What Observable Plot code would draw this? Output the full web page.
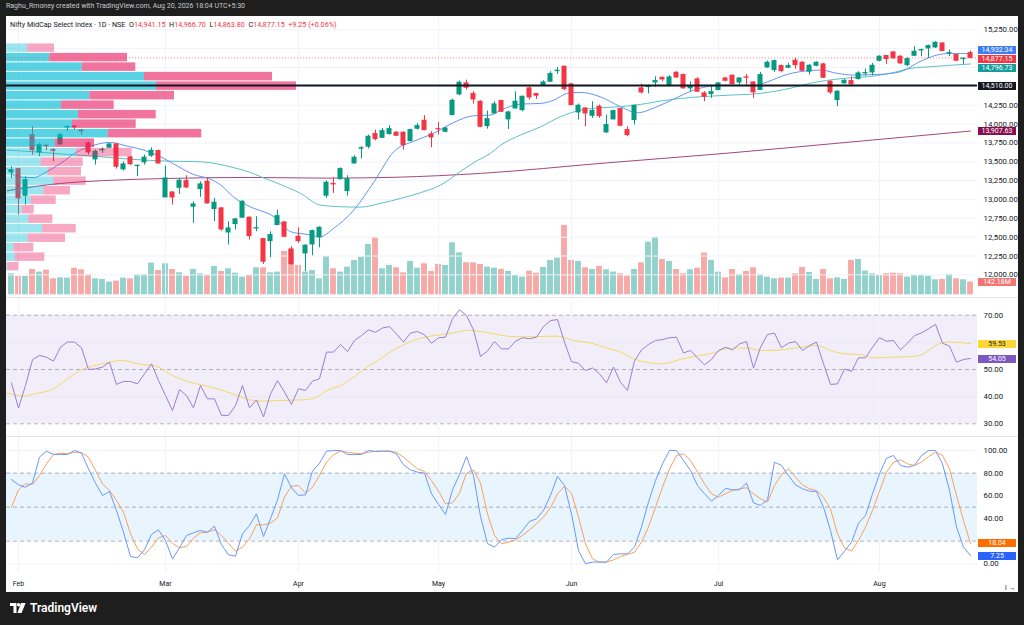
<!DOCTYPE html>
<html><head><meta charset="utf-8">
<script src="https://cdn.jsdelivr.net/npm/d3@7"></script>
<script src="https://cdn.jsdelivr.net/npm/@observablehq/plot@0.6"></script>
<style>
html,body{margin:0;padding:0}
body{width:1024px;height:625px;background:#1e1e1e;position:relative;overflow:hidden;font-family:Roboto,"Liberation Sans",sans-serif}
#attr{position:absolute;left:6px;top:2px;font-size:7px;color:#c8cad0;white-space:nowrap}
#white{position:absolute;left:6px;top:16px;width:1012px;height:576px;background:#fff}
.layer{position:absolute;left:6px}
.layer svg{display:block}
#hdr{position:absolute;left:10px;top:20px;font-size:7.2px;color:#131722;white-space:nowrap}
#hdr .r{color:#f23645}
.sep{position:absolute;left:6px;width:1012px;height:1px;background:#e0e3eb}
.box{position:absolute;left:978px;width:38px;height:8px;line-height:8px;font-size:7px;text-align:center;color:#fff;white-space:nowrap}
#logo{position:absolute;left:10px;top:601px;color:#fff;font-size:12px;font-weight:600;display:flex;align-items:center;gap:4px}
</style></head>
<body>
<div id="attr">Raghu_Rmoney created with TradingView.com, Aug 20, 2026 18:04 UTC+5:30</div>
<div id="white"></div>
<script>
// ---------- DATA ----------
const monthIdx = [1, 22, 41, 61, 80, 101, 124];
const monthNames = ["Feb", "Mar", "Apr", "May", "Jun", "Jul", "Aug"];
const priceTicks = [12000,12250,12500,12750,13000,13250,13500,13750,14000,14250,14500,14750,15000,15250];
const priceLabelTicks = [12000,12250,12500,12750,13000,13250,13500,13750,14000,14250,15250];

const open = [13359,13403,13050,13854,13624,13712,13655,13730,13955,13967,13918,13743,13531,13652,13686,13730,13399,13558,13443,13492,13580,13642,13027,13093,13155,13244,12904,13138,13235,12873,12882,12563,12674,12758,12758,12616,12475,12448,12661,12696,12338,12506,12285,12404,12497,13050,13207,13270,13111,13478,13674,13700,13867,13818,13867,13885,13885,13774,13938,14044,13862,13933,13898,14119,14393,14539,14398,14296,13973,14141,14305,14062,14207,14185,14473,14398,14517,14561,14702,14760,14526,14154,14207,14110,14230,13889,14062,14199,13920,14053,14473,14490,14552,14614,14504,14680,14650,14473,14592,14407,14398,14451,14605,14641,14552,14619,14552,14451,14751,14716,14769,14747,14840,14813,14694,14773,14791,14561,14318,14539,14570,14597,14672,14685,14840,14902,14950,14893,14782,14906,14976,15003,15016,15069,14937,14915,14862,14941.15];
const high = [13434,13412,13302,13965,13743,13730,13677,13876,13973,13975,13929,13765,13655,13686,13743,13743,13500,13567,13456,13589,13686,13655,13443,13103,13279,13315,12970,13235,13288,13014,12890,12705,12749,12983,12771,12771,12484,12572,12860,12705,12373,12625,12404,12594,12638,13248,13288,13421,13315,13580,13700,13854,13920,13942,13978,13898,13898,13933,14009,14110,13898,14022,13955,14331,14570,14583,14429,14309,14172,14296,14318,14172,14429,14371,14504,14407,14574,14694,14751,14769,14539,14265,14216,14296,14252,14119,14185,14207,13964,14252,14530,14517,14627,14619,14641,14694,14663,14561,14614,14429,14495,14548,14619,14650,14614,14658,14561,14685,14835,14849,14782,14804,14871,14826,14791,14826,14804,14574,14442,14592,14627,14694,14729,14804,14906,14906,14959,14906,14880,15025,14994,15047,15092,15078,14981,14924,14880,14966.70];
const low = [13279,12793,12926,13589,13567,13650,13500,13721,13898,13920,13854,13589,13456,13610,13677,13403,13377,13447,13302,13456,13558,13469,13027,12926,13067,13147,12683,13027,12939,12705,12581,12395,12594,12758,12462,12572,12139,12227,12652,12493,12130,12418,12042,12254,12360,13014,13080,13257,13045,13469,13536,13668,13779,13810,13854,13832,13655,13765,13920,13911,13686,13854,13885,14110,14375,14451,14265,13951,13933,14128,14154,13929,14199,14163,14318,14327,14504,14552,14658,14442,14243,14053,13964,14075,14075,13876,14053,13964,13832,13987,14398,14398,14486,14561,14495,14605,14464,14429,14420,14296,14340,14442,14561,14517,14517,14517,14340,14451,14738,14685,14680,14738,14729,14694,14650,14760,14605,14393,14230,14530,14517,14583,14636,14641,14826,14791,14862,14795,14760,14893,14893,14871,15003,14959,14893,14826,14791,14863.80];
const close = [13390,13014,13257,13655,13721,13705,13645,13854,13962,13958,13902,13624,13633,13660,13730,13434,13465,13469,13447,13554,13646,13478,13279,13027,13248,13160,12935,13200,12948,12957,12603,12616,12736,12970,12515,12620,12174,12528,12780,12506,12143,12448,12387,12581,12625,13222,13200,13403,13270,13554,13680,13832,13801,13907,13933,13845,13721,13920,13973,13920,13823,13929,13942,14309,14548,14482,14327,13964,14066,14261,14163,14154,14296,14362,14353,14376,14552,14663,14707,14464,14252,14243,14141,14176,14106,13987,14172,13978,13854,14243,14420,14495,14570,14592,14619,14619,14473,14504,14429,14362,14424,14539,14574,14530,14605,14614,14420,14650,14813,14835,14703,14769,14782,14707,14773,14813,14614,14420,14429,14574,14526,14672,14676,14773,14893,14862,14871,14804,14862,14959,14981,15034,15078,14968,14941,14840,14867.90,14877.15];
// volume in millions
const volume = [235,205,205,283,254,276,179,190,187,298,280,224,179,172,142,153,187,179,224,224,354,272,347,283,246,205,283,235,216,317,261,291,242,198,216,302,302,246,254,485,504,328,254,272,179,429,291,254,310,384,421,563,642,291,328,302,246,373,298,347,261,339,328,582,470,358,358,339,310,298,283,261,216,198,265,242,306,384,410,776,384,373,302,283,317,280,254,235,209,283,358,589,645,395,373,283,235,280,298,466,384,254,190,283,228,261,302,224,198,179,187,187,235,306,250,172,283,179,190,172,384,395,265,235,216,235,242,235,198,216,216,209,168,172,228,179,168,142.18];

// moving averages (bar index, value)
const emaFastIdx = [-0.6,0.8,3.2,4.6,7,9.4,11.8,14.1,16.5,18.9,21.3,23.7,26,28.4,29.9,31.8,34.1,37.5,39.9,42.2,44.1,46,48.9,51.8,54.6,57.5,60.3,63.2,66,68.4,69.9,72.7,75.6,77.5,79.4,81.3,84.1,87,89.4,92.2,94.6,97.5,100.3,102.7,106,108,110.8,113.7,115.6,118,120.3,123.7,127,129.9,132.2,134.1,137];
const emaFastVal = [13412,13302,13288,13346,13478,13633,13721,13757,13708,13655,13567,13443,13332,13270,13191,13027,12904,12771,12572,12537,12506,12616,12860,13235,13633,13774,13876,14022,14110,14119,14185,14265,14274,14318,14407,14420,14362,14230,14150,14230,14331,14451,14508,14517,14508,14561,14658,14707,14716,14672,14650,14658,14694,14835,14915,14937,14932.34];
const emaSlowIdx = [-0.6,3.2,8,12.7,17.5,22.2,27,31.8,34.1,35.6,38.4,41.3,44.1,47,49.9,52.7,55.6,58.4,61.3,64.1,66,68.4,69.9,72.7,75.6,78.4,81.3,84.1,87,89.9,92.7,95.6,98.4,102.7,106.9,111.6,114,118.8,123.6,125.5,128.4,131.2,137];
const emaSlowVal = [13655,13633,13598,13567,13531,13509,13500,13421,13359,13302,13200,13080,12926,12904,12899,12948,13014,13089,13191,13368,13487,13611,13721,13854,13964,14097,14185,14216,14230,14261,14305,14340,14362,14384,14406,14482,14539,14605,14641,14672,14738,14760,14796.73];
const sma200Idx = [-0.6,7,13,22,34,45,55,67,85,102,120,137];
const sma200Val = [13116,13213,13250,13278,13292,13283,13295,13346,13485,13612,13763,13907.63];
const pocPrice = 14510;

// visible-range volume profile (rows from top)
const vpBin = 126;
const vpTop = [15070,14944,14818,14692,14566,14440,14314,14188,14062,13936,13810,13684,13558,13432,13306,13180,13054,12928,12802,12676,12550,12424,12298,12172];
const vpUp = [213,433,757,1380,1500,833,550,720,660,1017,490,700,347,417,473,373,247,157,223,363,217,73,90,13];
const vpDown = [267,777,536,1280,1400,847,527,777,637,936,390,557,420,333,324,267,250,120,240,334,373,200,293,110];
const vpValueArea = [false,true,true,true,true,true,true,true,true,true,true,false,false,false,false,false,false,false,false,false,false,false,false,false];

// RSI
const rsi = [45.0,35.8,44.1,53.6,55.2,54.5,53.1,58.2,60.1,60.1,58.0,50.0,50.2,50.9,52.7,44.5,45.6,45.6,44.7,48.4,52.1,46.0,40.4,34.9,42.6,40.4,35.9,44.1,39.2,39.2,33.1,33.1,36.7,44.1,35.9,38.8,32.5,41.0,45.9,41.7,37.1,42.9,42.3,45.7,46.6,56.4,56.4,59.2,56.6,60.7,62.5,64.6,63.7,65.3,65.8,63.1,60.1,63.4,64.0,62.8,59.7,61.7,61.9,68.7,72.0,69.9,64.6,54.8,56.8,60.3,57.6,57.6,60.4,61.7,61.3,61.9,65.8,68.0,68.4,60.1,52.9,52.3,49.6,50.6,48.4,45.1,50.9,45.3,42.3,53.1,57.2,59.2,60.7,61.0,61.7,61.9,56.1,57.0,54.3,51.7,53.7,57.0,58.2,57.2,59.4,60.3,50.5,58.2,62.9,63.4,58.0,59.7,60.3,57.0,58.8,60.1,52.1,44.5,44.7,50.2,49.3,54.3,54.3,58.2,61.7,60.4,60.7,57.2,59.7,62.5,63.5,65.0,66.6,59.7,58.6,52.7,53.7,54.05];
const rsiMaIdx = [-0.7,1.8,3.2,6,8,10.3,12.7,14.1,15.6,16.5,18.4,20.3,23.2,25.1,27,29.4,31.8,34.1,35.5,38.4,41.2,43.2,45.1,47,48.9,50.8,52.7,54.6,56.5,58.4,61.3,63.2,65.1,67,69.4,71.8,74.1,77.9,80.3,82.7,85.1,87,88.9,91.7,93.1,95.5,98.3,100.2,102.6,105.1,107,109.9,112.7,115.1,117,118.9,121.3,123.2,125.1,128.9,130.3,132.2,134.1,137];
const rsiMaVal = [41.4,40.2,41.0,42.9,46.6,50.3,51.9,52.7,53.4,53.1,51.9,51.5,47.5,45.6,44.4,42.9,40.8,38.8,38.3,38.6,38.8,39.4,42.3,44.1,47.2,50.9,53.9,57.2,59.7,61.5,62.8,63.5,64.4,64.0,62.9,62.1,62.1,62.3,60.7,59.8,57.9,56.4,53.9,52.3,52.1,53.7,55.2,56.0,57.9,57.9,57.0,57.2,58.2,58.8,57.0,55.8,55.5,54.3,54.5,54.8,55.8,59.1,60.1,59.53];
const rsiTicks = [30, 40, 50, 70];
const rsiGrid = [40, 60];
const rsiLevels = [30, 50, 70];
const rsiZone = {lo: 30, hi: 70};

// Stochastic
const stochK = [74.4,69.7,67.6,71.2,94.1,99.4,96.5,96.5,96.5,100,97.6,83.8,71.2,60.3,63.8,47.1,27.9,6.5,5.3,12.4,25.9,30.0,20.6,4.4,14.1,25.0,27.4,29.4,27.9,33.2,16.8,7.9,6.8,26.5,33.8,44.1,24.1,39.7,56.5,79.4,67.1,60.3,60.9,81.8,88.8,99.4,100,100,96.5,96.5,96.5,100,99.1,99.4,99.4,97.1,87.4,82.9,80.9,80.0,61.8,52.4,43.5,65.3,78.8,94.7,77.9,41.8,17.9,14.7,21.2,22.6,22.1,29.4,37.4,39.7,47.1,60.3,77.1,69.1,44.1,11.8,0,1.5,1.5,1.5,8.2,8.8,8.8,14.7,32.4,54.4,73.5,88.2,100,100,91.2,82.4,69.1,61.8,55.3,60.3,66.6,65.3,65.3,71.2,53.8,51.5,56.5,89.7,86.8,77.9,69.7,66.2,64.1,63.8,50.0,29.4,3.5,11.2,19.1,35.9,42.6,61.8,79.4,93.2,95.6,86.8,85.3,86.8,95.6,100,100,88.2,64.7,32.4,14.7,7.25];
const stochD = [50.0,65.3,70.6,70.0,77.9,88.2,96.5,97.6,97.1,98.5,98.2,94.1,82.4,70.6,64.7,55.9,45.6,26.5,13.2,8.2,14.7,22.9,25.0,18.2,14.1,15.3,22.6,27.4,27.9,30.0,25.0,18.2,11.2,14.7,22.0,34.4,34.4,35.9,40.6,58.8,68.5,69.1,62.4,67.6,77.9,89.7,96.2,99.4,98.5,97.6,97.1,98.5,99.4,99.4,99.4,98.5,94.1,88.8,83.8,81.5,73.5,64.1,52.9,53.8,62.4,80.0,82.9,71.4,44.1,25.0,17.6,19.1,21.2,25.0,30.0,35.3,41.2,49.4,61.8,68.5,62.4,41.2,17.6,4.4,1.5,1.5,3.5,6.5,8.2,10.3,19.1,32.4,50.0,67.6,83.8,95.6,97.1,91.2,80.9,70.6,61.8,58.8,61.8,64.7,66.2,67.1,61.8,57.4,54.4,69.1,78.8,83.8,76.5,69.7,66.2,64.7,58.8,48.5,26.5,14.1,11.2,20.6,32.4,47.1,64.1,80.9,89.7,91.8,88.2,86.8,89.7,94.7,98.5,95.6,83.8,60.3,38.2,18.04];
const stochTicks = [0, 40, 60, 80, 100];
const stochGrid = [0, 40, 60, 100];
const stochLevels = [20, 50, 80];
const stochZone = {lo: 20, hi: 80};

// ---------- RENDER ----------
const FONT = "Roboto, 'Liberation Sans', sans-serif";
const W = 1012, MR = 41, XDOM = [-0.714, 138];
const G = "#089981", R = "#f23645";
const GRID = "#f0f3fa";
const f2 = d3.format(",.2f");
const candles = open.map((o, i) => ({i, open: o, high: high[i], low: low[i], close: close[i], vol: volume[i], up: close[i] >= o}));
const pts = (idx, val) => idx.map((i, j) => ({i, v: val[j]}));
const seriesPts = val => val.map((v, i) => ({i, v}));
const base = (h, mt, mb) => ({
  width: W, height: h, marginLeft: 0, marginRight: MR, marginTop: mt, marginBottom: mb,
  style: {background: "transparent", fontFamily: FONT, fontSize: "7.8px", color: "#131722", overflow: "visible"},
  color: {type: "identity"}
});
function place(svg, top) {
  const d = document.createElement("div");
  d.className = "layer"; d.style.top = top + "px";
  d.appendChild(svg); document.body.appendChild(d);
}
function boxes(plot, top, items) {
  const s = plot.scale("y");
  const arr = items.map(d => ({...d, y: top + s.apply(d.v)})).sort((a, b) => a.y - b.y);
  for (let it = 0; it < 40; it++) for (let j = 1; j < arr.length; j++) {
    const g = arr[j].y - arr[j - 1].y;
    if (g < 9) { const m = (9 - g) / 2; arr[j].y += m; arr[j - 1].y -= m; }
  }
  for (const d of arr) {
    const b = document.createElement("div");
    b.className = "box"; b.textContent = d.text;
    b.style.top = (d.y - 3.5) + "px"; b.style.background = d.bg; b.style.color = d.fg || "#fff";
    document.body.appendChild(b);
  }
}

// Price pane geometry
const P_TOP = 16, P_H = 281, P_MT = 13.3, P_MB = 22.6;

// volume (bottom layer)
const volPlot = Plot.plot({
  ...base(P_H, 0, 2.7),
  x: {domain: XDOM, axis: null},
  y: {domain: [0, 3114], axis: null},
  marks: [
    Plot.rect(candles, {x1: d => d.i - 0.42, x2: d => d.i + 0.42, y1: 0, y2: "vol",
      fill: d => d.up ? "rgba(38,166,154,0.5)" : "rgba(239,83,80,0.5)"})
  ]
});
place(volPlot, P_TOP);

const pricePlot = Plot.plot({
  ...base(P_H, P_MT, P_MB),
  x: {domain: XDOM, axis: null},
  y: {domain: [12000, 15250]},
  marks: [
    Plot.ruleY(priceTicks, {stroke: GRID}),
    Plot.ruleX(monthIdx, {stroke: GRID, insetTop: -P_MT, insetBottom: -P_MB}),
    Plot.axisY(priceLabelTicks, {anchor: "right", tickSize: 0, tickPadding: 6, tickFormat: f2, fontSize: 7.8}),
    Plot.line(pts(sma200Idx, sma200Val), {x: "i", y: "v", stroke: "#a4487a", strokeWidth: 1, curve: "monotone-x"}),
    Plot.line(pts(emaSlowIdx, emaSlowVal), {x: "i", y: "v", stroke: "#5cc2c2", strokeWidth: 1, curve: "monotone-x"}),
    Plot.line(pts(emaFastIdx, emaFastVal), {x: "i", y: "v", stroke: "#6495f5", strokeWidth: 1, curve: "monotone-x"}),
    Plot.ruleX(candles, {x: "i", y1: "low", y2: "high", stroke: d => d.up ? G : R, strokeWidth: 1}),
    Plot.rect(candles, {x1: d => d.i - 0.36, x2: d => d.i + 0.36, y1: "open", y2: "close",
      fill: d => d.up ? G : R, insetTop: -0.5, insetBottom: -0.5})
  ]
});
place(pricePlot, P_TOP);

const vp = vpTop.map((t, j) => ({top: t, bot: t - vpBin, up: vpUp[j], down: vpDown[j], va: vpValueArea[j]}));
const profPlot = Plot.plot({
  ...base(P_H, P_MT, P_MB),
  x: {domain: [0, 9710], axis: null},
  y: {domain: [12000, 15250], axis: null},
  marks: [
    Plot.rect(vp, {x1: 0, x2: "up", y1: "bot", y2: "top", insetTop: 0.5, insetBottom: 0.5,
      fill: d => d.va ? "rgba(0,188,212,0.65)" : "rgba(0,188,212,0.38)"}),
    Plot.rect(vp, {x1: "up", x2: d => d.up + d.down, y1: "bot", y2: "top", insetTop: 0.5, insetBottom: 0.5,
      fill: d => d.va ? "rgba(233,30,99,0.62)" : "rgba(233,30,99,0.38)"}),
    Plot.ruleY([close[close.length - 1]], {stroke: R, strokeOpacity: 0.6, strokeDasharray: "1,2"}),
    Plot.ruleY([pocPrice], {stroke: "#131722", strokeWidth: 2})
  ]
});
place(profPlot, P_TOP);

// RSI pane
const R_TOP = 297, R_H = 139, R_MT = 17.7, R_MB = 12.7;
const rsiPlot = Plot.plot({
  ...base(R_H, R_MT, R_MB),
  x: {domain: XDOM, axis: null},
  y: {domain: [30, 70]},
  marks: [
    Plot.rect([rsiZone], {y1: "lo", y2: "hi", fill: "#7e57c2", fillOpacity: 0.1}),
    Plot.ruleY(rsiGrid, {stroke: "#e9e6f2"}),
    Plot.ruleX(monthIdx, {stroke: GRID, strokeOpacity: 0.8, insetTop: -R_MT, insetBottom: -R_MB}),
    Plot.ruleY(rsiLevels, {stroke: "#787b86", strokeOpacity: 0.55, strokeDasharray: "4,3"}),
    Plot.axisY(rsiTicks, {anchor: "right", tickSize: 0, tickPadding: 6, tickFormat: d3.format(".2f"), fontSize: 7.8}),
    Plot.line(pts(rsiMaIdx, rsiMaVal), {x: "i", y: "v", stroke: "#f5d867", strokeWidth: 1, curve: "monotone-x"}),
    Plot.line(seriesPts(rsi), {x: "i", y: "v", stroke: "#9a7fd1", strokeWidth: 1})
  ]
});
place(rsiPlot, R_TOP);

// Stochastic pane + time axis
const S_TOP = 436, S_H = 156, S_MT = 14, S_MB = 28.7, S_PANE = 136;
const stPlot = Plot.plot({
  ...base(S_H, S_MT, S_MB),
  x: {domain: XDOM},
  y: {domain: [0, 100]},
  marks: [
    Plot.rect([stochZone], {y1: "lo", y2: "hi", fill: "#2196f3", fillOpacity: 0.1}),
    Plot.ruleY(stochGrid, {stroke: GRID}),
    Plot.ruleX(monthIdx, {stroke: GRID, insetTop: -S_MT, insetBottom: -(S_PANE - (S_H - S_MB))}),
    Plot.ruleY(stochLevels, {stroke: "#787b86", strokeOpacity: 0.55, strokeDasharray: "4,3"}),
    Plot.axisY(stochTicks, {anchor: "right", tickSize: 0, tickPadding: 6, tickFormat: d3.format(".2f"), fontSize: 7.8}),
    Plot.axisX(monthIdx, {anchor: "bottom", tickSize: 0, tickPadding: 17, fontSize: 7,
      tickFormat: d => monthNames[monthIdx.indexOf(d)]}),
    Plot.line(seriesPts(stochD), {x: "i", y: "v", stroke: "#f7a15e", strokeWidth: 1}),
    Plot.line(seriesPts(stochK), {x: "i", y: "v", stroke: "#6b98f8", strokeWidth: 1})
  ]
});
place(stPlot, S_TOP);

// pane separators
for (const y of [R_TOP, S_TOP]) {
  const s = document.createElement("div"); s.className = "sep"; s.style.top = y + "px"; document.body.appendChild(s);
}

// axis value labels
const last = close.length - 1;
boxes(pricePlot, P_TOP, [
  {v: emaFastVal[emaFastVal.length - 1], text: f2(emaFastVal[emaFastVal.length - 1]), bg: "#3f7cf5"},
  {v: close[last], text: f2(close[last]), bg: R},
  {v: emaSlowVal[emaSlowVal.length - 1], text: f2(emaSlowVal[emaSlowVal.length - 1]), bg: "#179c9c"},
  {v: pocPrice, text: f2(pocPrice), bg: "#131722"},
  {v: sma200Val[sma200Val.length - 1], text: f2(sma200Val[sma200Val.length - 1]), bg: "#880e4f"}
]);
boxes(volPlot, P_TOP, [{v: volume[last], text: d3.format(".2f")(volume[last]) + "M", bg: "#f07573"}]);
boxes(rsiPlot, R_TOP, [
  {v: rsiMaVal[rsiMaVal.length - 1], text: d3.format(".2f")(rsiMaVal[rsiMaVal.length - 1]), bg: "#fdd835", fg: "#131722"},
  {v: rsi[last], text: d3.format(".2f")(rsi[last]), bg: "#7e57c2"}
]);
boxes(stPlot, S_TOP, [
  {v: stochD[last], text: d3.format(".2f")(stochD[last]), bg: "#ff6d00"},
  {v: stochK[last], text: d3.format(".2f")(stochK[last]), bg: "#2962ff"}
]);

// header legend
const chg = close[last] - close[last - 1];
const pct = chg / close[last - 1] * 100;
const hdr = document.createElement("div");
hdr.id = "hdr";
hdr.innerHTML = `Nifty MidCap Select Index · 1D · NSE&nbsp;&nbsp;O<span class="r">${f2(open[last])}</span>&nbsp;&nbsp;H<span class="r">${f2(high[last])}</span>&nbsp;&nbsp;L<span class="r">${f2(low[last])}</span>&nbsp;&nbsp;C<span class="r">${f2(close[last])}</span>&nbsp;&nbsp;<span class="r">${chg >= 0 ? "+" : ""}${f2(chg)} (${pct >= 0 ? "+" : ""}${pct.toFixed(2)}%)</span>`;
document.body.appendChild(hdr);
</script>
<div id="logo"><svg width="16" height="10" viewBox="0 0 16 10"><path d="M0 0h6.5v10h-3v-7h-3.5z" fill="#fff"/><circle cx="8.6" cy="1.7" r="1.7" fill="#fff"/><path d="M11 0h4.6l-4 10h-4.2z" fill="#fff"/></svg><span>TradingView</span></div>
</body></html>
